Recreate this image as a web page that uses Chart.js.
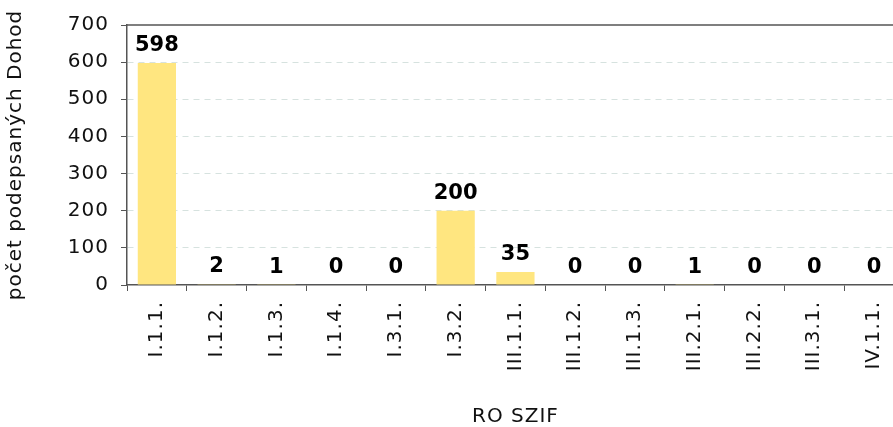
<!DOCTYPE html>
<html>
<head>
<meta charset="utf-8">
<script src="https://cdn.jsdelivr.net/npm/chart.js@4.4.1/dist/chart.umd.min.js"></script>
<style>
  html, body { margin: 0; padding: 0; background: #fff; overflow: hidden; }
  #wrap { position: relative; width: 908px; height: 427px; }
</style>
</head>
<body>
<div id="wrap"><canvas id="chart"></canvas></div>
<script>
// categories (RO SZIF measures) and number of signed agreements
const categories = ['I.1.1.', 'I.1.2.', 'I.1.3.', 'I.1.4.', 'I.3.1.', 'I.3.2.', 'III.1.1.',
                    'III.1.2.', 'III.1.3.', 'III.2.1.', 'III.2.2.', 'III.3.1.', 'IV.1.1.'];
const agreements = [598, 2, 1, 0, 0, 200, 35, 0, 0, 1, 0, 0, 0];
const yTicks = [0, 100, 200, 300, 400, 500, 600, 700];

const FONT = 'DejaVu Sans, Verdana, sans-serif';

// slightly wider text, closer to Verdana
const spacing = {
    id: 'spacing',
    beforeDraw(chart) {
        chart.ctx.letterSpacing = '1px';
    }
};

// value labels above bars
const valueLabels = {
    id: 'valueLabels',
    afterDatasetsDraw(chart) {
        const ctx = chart.ctx;
        const meta = chart.getDatasetMeta(0);
        ctx.save();
        ctx.letterSpacing = '0px';
        ctx.font = 'bold 21px ' + FONT;
        ctx.fillStyle = '#000';
        ctx.textAlign = 'center';
        ctx.textBaseline = 'alphabetic';
        meta.data.forEach(function(bar, i) {
            ctx.fillText(String(agreements[i]), bar.x, bar.y - 12);
        });
        ctx.restore();
    }
};

// solid frame line at the top of the plot
const topFrame = {
    id: 'topFrame',
    afterDraw(chart) {
        const a = chart.chartArea;
        const ctx = chart.ctx;
        ctx.save();
        ctx.strokeStyle = '#555';
        ctx.lineWidth = 1.5;
        ctx.beginPath();
        ctx.moveTo(a.left, a.top);
        ctx.lineTo(a.right, a.top);
        ctx.stroke();
        ctx.restore();
    }
};

new Chart(document.getElementById('chart'), {
    type: 'bar',
    data: {
        labels: categories,
        datasets: [{
            data: agreements,
            backgroundColor: '#ffe680',
            borderWidth: 0,
            barPercentage: 0.64,
            categoryPercentage: 1
        }]
    },
    options: {
        responsive: true,
        maintainAspectRatio: false,
        animation: false,
        layout: { padding: { top: 25, right: 1, bottom: 0, left: 0 } },
        plugins: {
            legend: { display: false },
            tooltip: { enabled: false }
        },
        scales: {
            x: {
                grid: {
                    offset: true,
                    drawOnChartArea: false,
                    drawTicks: true,
                    tickLength: 6,
                    tickColor: '#555'
                },
                border: { color: '#555', width: 1.5 },
                ticks: {
                    color: '#111',
                    font: { family: FONT, size: 20 },
                    minRotation: 90,
                    maxRotation: 90,
                    autoSkip: false,
                    padding: 10
                },
                title: {
                    display: true,
                    text: 'RO SZIF',
                    color: '#111',
                    font: { family: FONT, size: 20, lineHeight: 1 },
                    padding: { top: 0, bottom: 0 }
                },
                afterFit(scale) { scale.height = 142; }
            },
            y: {
                min: 0,
                max: 700,
                afterBuildTicks(scale) {
                    scale.ticks = yTicks.map(function(v) { return { value: v }; });
                },
                grid: {
                    color: function(c) {
                        return (c.tick && (c.tick.value === 700 || c.tick.value === 0)) ? 'rgba(0,0,0,0)' : '#d6e2df';
                    },
                    lineWidth: 1,
                    tickLength: 6,
                    tickColor: '#555',
                    tickBorderDash: []
                },
                border: { color: '#555', width: 1.5, dash: [6, 5] },
                ticks: {
                    color: '#111',
                    font: { family: FONT, size: 20 },
                    padding: 12
                },
                title: {
                    display: true,
                    text: 'počet podepsaných Dohod',
                    color: '#111',
                    font: { family: FONT, size: 20 },
                    padding: { top: 4, bottom: 0 }
                },
                afterFit(scale) { scale.width = 127; }
            }
        }
    },
    plugins: [spacing, valueLabels, topFrame]
});
</script>
</body>
</html>
